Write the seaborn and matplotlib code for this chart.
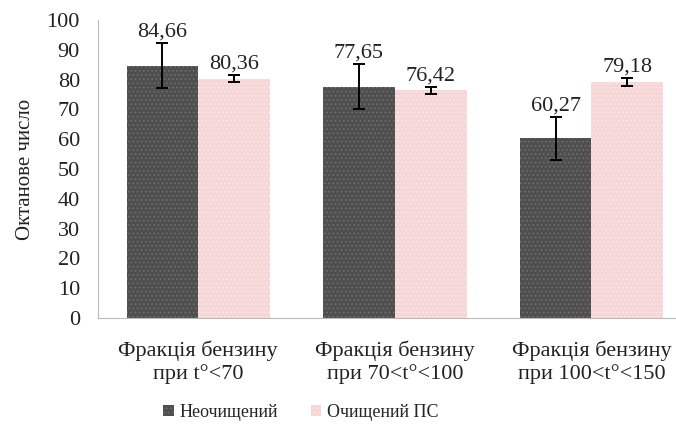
import numpy as np
import pandas as pd
import matplotlib
matplotlib.use("Agg")
import matplotlib.pyplot as plt
import seaborn as sns
from matplotlib.patches import Patch

categories = ["Фракція бензину\nпри t°<70", "Фракція бензину\nпри 70<t°<100", "Фракція бензину\nпри 100<t°<150"]
series = ["Неочищений", "Очищений ПС"]
raw_vals = [84.66, 77.65, 60.27]
clean_vals = [80.36, 76.42, 79.18]
raw_err = [7.5, 7.5, 7.3]
clean_err = [1.3, 1.2, 1.3]
value_labels_raw = ["84,66", "77,65", "60,27"]
value_labels_clean = ["80,36", "76,42", "79,18"]

df = pd.DataFrame({
    "cat": categories * 2,
    "series": [series[0]] * 3 + [series[1]] * 3,
    "val": raw_vals + clean_vals,
})

sns.set_style("white")
plt.rcParams["font.family"] = ["Liberation Serif", "DejaVu Serif"]
plt.rcParams["hatch.linewidth"] = 0.6

fig = plt.figure(figsize=(6.76, 4.28), dpi=100)
ax = fig.add_axes([0.145, 0.257, 0.855, 0.696])

colors = ["#4f4f4f", "#f6d6d6"]
sns.barplot(data=df, x="cat", y="val", hue="series", palette=colors,
            errorbar=None, width=0.73, gap=0, ax=ax, saturation=1, legend=False)

hatch_cols = ["#727272", "#fbeaea"]
errs = [raw_err, clean_err]
labels = [value_labels_raw, value_labels_clean]
vals = [raw_vals, clean_vals]
bar_groups = list(ax.containers)[:2]
for i, cont in enumerate(bar_groups):
    for j, bar in enumerate(list(cont.patches)):
        bar.set_hatch("....")
        bar.set_edgecolor(hatch_cols[i])
        bar.set_linewidth(0)
        xc = bar.get_x() + bar.get_width() / 2
        ax.errorbar(xc, vals[i][j], yerr=errs[i][j], fmt="none", ecolor="black",
                    elinewidth=1.4, capsize=4, capthick=1.4)
        ax.text(xc, vals[i][j] + errs[i][j] + 0.5, labels[i][j], ha="center", va="bottom",
                fontsize=16, color="#222222")

ax.set_ylim(0, 100)
ax.set_yticks(range(0, 101, 10))
ax.set_xlim(-0.51, 2.43)
ax.set_xlabel("")
ax.set_ylabel("Октанове число", fontsize=15, color="#222222", labelpad=8)
ax.tick_params(axis="y", length=0, labelsize=16, labelcolor="#222222", pad=13)
ax.tick_params(axis="x", length=0, labelsize=16, labelcolor="#222222", pad=16)
for t in ax.get_xticklabels():
    t.set_linespacing(1.25)
ax.set_xticks([0.5, 1.5], minor=True)
ax.tick_params(axis="x", which="minor", length=4, color="#aaaaaa", direction="out")
for s in ["top", "right"]:
    ax.spines[s].set_visible(False)
ax.spines["left"].set_color("#bbbbbb")
ax.spines["bottom"].set_color("#bbbbbb")

handles = [Patch(facecolor=colors[k], edgecolor=hatch_cols[k], hatch="....", linewidth=0) for k in range(2)]
fig.legend(handles, series, loc="lower center", bbox_to_anchor=(0.445, 0.0), ncol=2,
           frameon=False, fontsize=13, handlelength=0.6, handleheight=0.6,
           handletextpad=0.3, columnspacing=1.8, borderpad=0.2, borderaxespad=0.2)

fig.savefig("out.png", dpi=100)
